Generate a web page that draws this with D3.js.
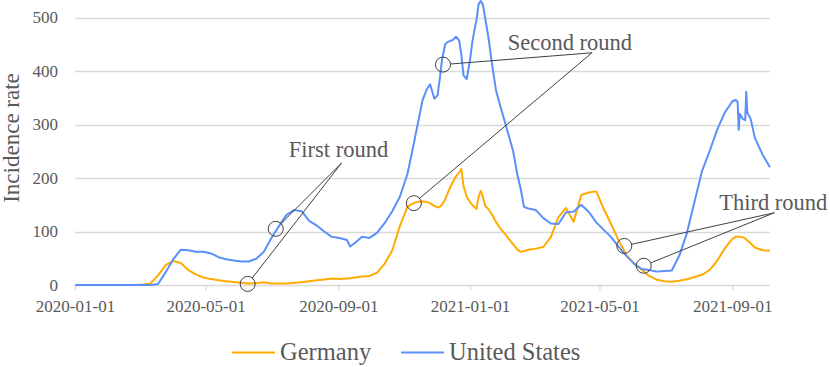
<!DOCTYPE html>
<html>
<head>
<meta charset="utf-8">
<script src="https://cdn.jsdelivr.net/npm/d3@7"></script>
<style>
  body { margin: 0; background: #fff; }
  text { font-family: "Liberation Serif", serif; fill: #595959; }
</style>
</head>
<body>
<script>
// weekly readings, denser where the curves spike
var dates = [
  "2020-01-01","2020-01-08","2020-01-15","2020-01-22","2020-01-29","2020-02-05","2020-02-12","2020-02-19","2020-02-26","2020-03-04",
  "2020-03-11","2020-03-18","2020-03-25","2020-04-01","2020-04-08","2020-04-15","2020-04-22","2020-04-29","2020-05-06","2020-05-13",
  "2020-05-20","2020-05-27","2020-06-03","2020-06-10","2020-06-17","2020-06-24","2020-07-01","2020-07-08","2020-07-15","2020-07-22",
  "2020-07-29","2020-08-05","2020-08-12","2020-08-19","2020-08-26","2020-09-02","2020-09-09","2020-09-12","2020-09-16","2020-09-23",
  "2020-09-30","2020-10-07","2020-10-14","2020-10-21","2020-10-28","2020-11-04","2020-11-08","2020-11-11","2020-11-15","2020-11-18",
  "2020-11-22","2020-11-25","2020-11-27","2020-11-29","2020-12-02","2020-12-04","2020-12-06","2020-12-09","2020-12-12","2020-12-16",
  "2020-12-19","2020-12-22","2020-12-24","2020-12-26","2020-12-29","2021-01-01","2021-01-03","2021-01-05","2021-01-07","2021-01-09",
  "2021-01-11","2021-01-13","2021-01-15","2021-01-18","2021-01-22","2021-01-25","2021-01-29","2021-02-03","2021-02-10","2021-02-14",
  "2021-02-17","2021-02-20","2021-02-24","2021-03-03","2021-03-10","2021-03-17","2021-03-24","2021-03-31","2021-04-07","2021-04-14",
  "2021-04-21","2021-04-28","2021-05-05","2021-05-12","2021-05-19","2021-05-26","2021-06-02","2021-06-09","2021-06-16","2021-06-23",
  "2021-06-30","2021-07-07","2021-07-14","2021-07-21","2021-07-28","2021-08-04","2021-08-11","2021-08-18","2021-08-25","2021-09-01",
  "2021-09-04","2021-09-06","2021-09-07","2021-09-08","2021-09-11","2021-09-13","2021-09-14","2021-09-15","2021-09-18","2021-09-22",
  "2021-09-29","2021-10-06"
];

var germany = [
  0,0,0,0,0,0,0,0,0,1,
  3,18,37,45,41,28,20,14,11,9,
  7,5.6,4.4,3,3.5,5,3,3,3,4,
  5,7,9,10.5,12,11,12,12.5,14,16,
  17,23,40,65,110,146,151,154,156,156,
  155,153,150,148,145,146,150,160,175,192,
  203,210,217,185,165,155,150,146,142,165,
  176,165,148,142,130,118,106,94,76,66,
  62,63,66,68,71,90,127,144,118,168,
  173,175,142,113,82,56,40,29,17,10,
  7,6,8,10.6,15,19,28,45,68,86,
  90,90,90,90,89,87,85,83,78,70,
  65,64
];

var unitedStates = [
  0,0,0,0,0,0,0,0,0,0,
  0,2,24,48,66,65,62,62,59,52,
  48,46,44,44,49,62,88,110,131,140,
  138,120,111,100,90,88,84,72,78,90,
  88,98,116,138,165,207,245,275,315,345,
  366,375,362,348,355,385,420,450,455,458,
  464,457,430,392,385,420,452,475,495,525,
  531,524,500,464,405,365,335,300,250,205,
  180,146,143,140,125,115,114,136,137,150,
  137,117,103,89,71,54,40,30,28,25,
  26,27,55,97,155,213,250,290,322,343,
  346,343,290,320,310,308,361,322,311,275,
  244,220
];

var seriesNames = ["Germany", "United States"];
var seriesColors = ["#ffab00", "#5b8ff9"];
var yTicks = [0, 100, 200, 300, 400, 500];
var xTicks = ["2020-01-01","2020-05-01","2020-09-01","2021-01-01","2021-05-01","2021-09-01"];

var annotations = [
  { label: "First round",  at: ["2020-09-04", 228], points: [["2020-07-05", 105], ["2020-06-09", 2]] },
  { label: "Second round", at: ["2021-04-24", 434], points: [["2020-12-07", 412], ["2020-11-10", 153]] },
  { label: "Third round",  at: ["2021-10-10", 135], points: [["2021-05-24", 73], ["2021-06-11", 36]] }
];
var labelShift = [[-3, -6], [-22, -3], [-1, -3]];

var W = 830, H = 367;
var parse = d3.timeParse("%Y-%m-%d");

var svg = d3.select("body").append("svg")
    .attr("width", W)
    .attr("height", H);

var x = d3.scaleTime()
    .domain([parse("2020-01-01"), parse("2021-10-06")])
    .range([75, 770]);

var y = d3.scaleLinear()
    .domain([0, 500])
    .range([285, 17.5]);

// grid
svg.append("g")
    .selectAll("line")
    .data(yTicks)
    .join("line")
    .attr("x1", 75).attr("x2", 770)
    .attr("y1", d => Math.round(y(d)) + 0.5)
    .attr("y2", d => Math.round(y(d)) + 0.5)
    .style("stroke", "#d9d9d9")
    .style("stroke-width", 1.3);

svg.append("g")
    .selectAll("text")
    .data(yTicks)
    .join("text")
    .attr("x", 58)
    .attr("y", d => y(d))
    .attr("dy", "0.35em")
    .attr("text-anchor", "end")
    .style("font-size", "17px")
    .text(d => d);

// x axis
var xAxis = d3.axisBottom(x)
    .tickValues(xTicks.map(parse))
    .tickFormat(d3.timeFormat("%Y-%m-%d"))
    .tickSize(5)
    .tickPadding(9);

var gx = svg.append("g")
    .attr("transform", "translate(0," + (Math.round(y(0)) + 0.5) + ")")
    .call(xAxis)
    .attr("font-family", null)
    .attr("font-size", null);
gx.select(".domain").remove();
gx.selectAll(".tick line").style("stroke", "#d9d9d9").style("stroke-width", 1.3);
gx.selectAll(".tick text")
    .attr("fill", null)
    .style("font-size", "17px");

svg.append("text")
    .attr("transform", "translate(19,138) rotate(-90)")
    .attr("text-anchor", "middle")
    .style("font-size", "23px")
    .text("Incidence rate");

// lines
var line = d3.line()
    .x(d => x(d[0]))
    .y(d => y(d[1]));

[germany, unitedStates].forEach(function(vals, i) {
    var pts = dates.map((d, j) => [parse(d), vals[j]]);
    svg.append("path")
        .datum(pts)
        .attr("d", line)
        .style("fill", "none")
        .style("stroke", seriesColors[i])
        .style("stroke-width", 2)
        .style("stroke-linejoin", "round");
});

// annotations
var R = 7.5;
annotations.forEach(function(a, i) {
    var ax = x(parse(a.at[0])), ay = y(a.at[1]);
    a.points.forEach(function(p) {
        var cx = x(parse(p[0])), cy = y(p[1]);
        var ang = Math.atan2(ay - cy, ax - cx);
        svg.append("line")
            .attr("x1", cx + R * Math.cos(ang))
            .attr("y1", cy + R * Math.sin(ang))
            .attr("x2", ax).attr("y2", ay)
            .style("stroke", "#404040")
            .style("stroke-width", 1);
        svg.append("circle")
            .attr("cx", cx).attr("cy", cy).attr("r", R)
            .style("fill", "none")
            .style("stroke", "#404040")
            .style("stroke-width", 1);
    });
    svg.append("text")
        .attr("x", ax + labelShift[i][0])
        .attr("y", ay + labelShift[i][1])
        .attr("text-anchor", "middle")
        .style("font-size", "22.5px")
        .text(a.label);
});

// legend
var legend = svg.append("g");
var legendX = [232, 401];
seriesNames.forEach(function(name, i) {
    legend.append("line")
        .attr("x1", legendX[i]).attr("x2", legendX[i] + 43)
        .attr("y1", 352.5).attr("y2", 352.5)
        .style("stroke", seriesColors[i])
        .style("stroke-width", 2);
    legend.append("text")
        .attr("x", legendX[i] + 48)
        .attr("y", 360)
        .style("font-size", "24.5px")
        .text(name);
});
</script>
</body>
</html>
